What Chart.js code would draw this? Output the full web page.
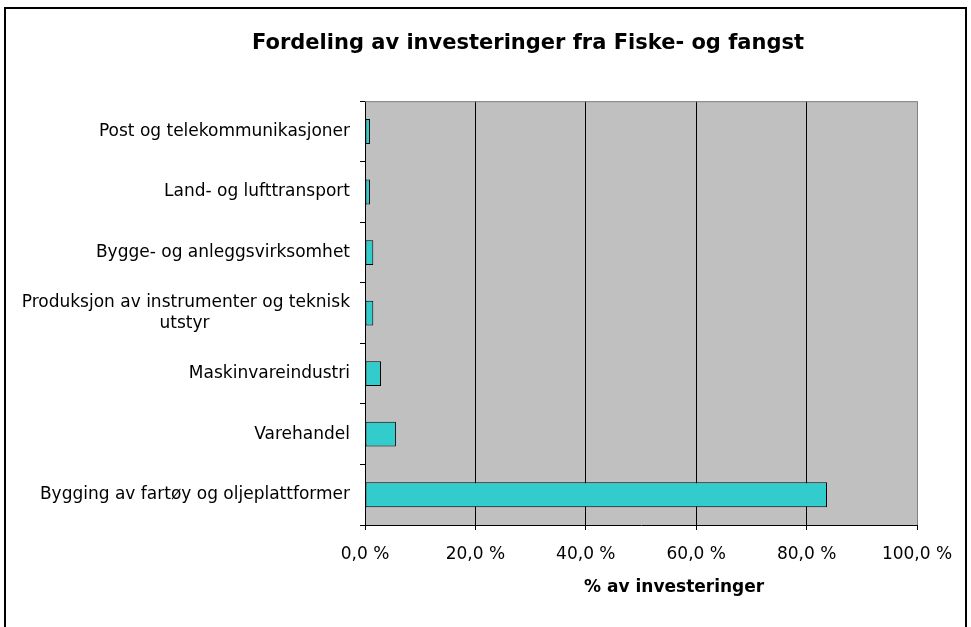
<!DOCTYPE html>
<html><head><meta charset="utf-8">
<script src="https://cdn.jsdelivr.net/npm/chart.js@4.4.1/dist/chart.umd.min.js"></script>
<style>html,body{margin:0;padding:0;background:#fff}#wrap{width:971px;height:627px;position:relative}</style>
</head><body><div id="wrap"><canvas id="c"></canvas></div>
<script>
const chartTitle = 'Fordeling av investeringer fra Fiske- og fangst';
const axisTitle = '% av investeringer';
const categories = [
  'Post og telekommunikasjoner',
  'Land- og lufttransport',
  'Bygge- og anleggsvirksomhet',
  ['Produksjon av instrumenter og teknisk', 'utstyr'],
  'Maskinvareindustri',
  'Varehandel',
  'Bygging av fartøy og oljeplattformer'
];
const shares = [0.9, 0.9, 1.5, 1.5, 2.9, 5.6, 83.7];
const xTickValues = [0, 20, 40, 60, 80, 100];
const xTickLabels = ['0,0 %', '20,0 %', '40,0 %', '60,0 %', '80,0 %', '100,0 %'];

const labelFont = {family: 'DejaVu Sans', size: 17};
const mctx = document.createElement('canvas').getContext('2d');
mctx.font = '17px "DejaVu Sans"';
function centeredLines(lbl) {
  if (!Array.isArray(lbl)) return lbl;
  const widths = lbl.map(s => mctx.measureText(s).width);
  const maxW = Math.max(...widths);
  const sp = mctx.measureText(' ').width;
  return lbl.map((s, i) => s + ' '.repeat(Math.max(0, Math.round((maxW - widths[i]) / 2 / sp))));
}

const frame = {
  id: 'frame',
  beforeDraw(chart) {
    const {ctx, chartArea: a} = chart;
    // let the long category labels extend past the axis box (as in the original)
    if (chart.scales.y) chart.scales.y._computeLabelArea = () => undefined;
    ctx.save();
    ctx.fillStyle = '#c0c0c0';
    ctx.fillRect(a.left, a.top, a.right - a.left, a.bottom - a.top);
    ctx.restore();
  },
  afterDraw(chart) {
    const {ctx, chartArea: a} = chart;
    ctx.save();
    ctx.strokeStyle = '#808080';
    ctx.lineWidth = 1;
    ctx.beginPath();
    ctx.moveTo(a.left, a.top + 0.5);
    ctx.lineTo(a.right, a.top + 0.5);
    ctx.stroke();
    ctx.strokeStyle = '#000';
    ctx.lineWidth = 2;
    ctx.strokeRect(5, 8, 961, 700);
    ctx.font = 'bold 17px "DejaVu Sans"';
    ctx.fillStyle = '#000';
    ctx.textAlign = 'center';
    ctx.textBaseline = 'middle';
    ctx.fillText(axisTitle, a.left + (a.right - a.left) * 0.56, 588);
    ctx.restore();
  }
};

Chart.defaults.color = '#000';
new Chart(document.getElementById('c'), {
  type: 'bar',
  data: {
    labels: categories,
    datasets: [{
      data: shares,
      backgroundColor: '#33cccc',
      borderColor: '#000',
      borderWidth: 1,
      borderSkipped: false,
      categoryPercentage: 1,
      barPercentage: 0.41
    }]
  },
  plugins: [frame],
  options: {
    indexAxis: 'y',
    responsive: true,
    maintainAspectRatio: false,
    animation: false,
    layout: {padding: {left: 139, right: 54, top: 7, bottom: 0}},
    plugins: {
      legend: {display: false},
      tooltip: {enabled: false},
      title: {
        display: true, text: chartTitle, color: '#000',
        font: {family: 'DejaVu Sans', size: 21, weight: 'bold'},
        padding: {top: 24, bottom: 45}
      }
    },
    scales: {
      x: {
        min: 0, max: 100,
        ticks: {stepSize: 20, color: '#000', font: labelFont, padding: 14,
          callback: v => xTickLabels[xTickValues.indexOf(v)]},
        grid: {color: c => (c.tick && c.tick.value === 100) ? '#808080' : '#000',
          tickColor: '#000', tickLength: 5},
        border: {color: '#000', width: 1},
        afterFit: s => { s.height = 102; }
      },
      y: {
        ticks: {color: '#000', font: labelFont, padding: 10, autoSkip: false,
          callback: (v, i) => centeredLines(categories[i])},
        grid: {drawOnChartArea: false, tickColor: '#000', tickLength: 5},
        border: {color: '#000', width: 1},
        afterFit: s => { s.width = 226; }
      }
    }
  }
});
</script>
</body></html>
